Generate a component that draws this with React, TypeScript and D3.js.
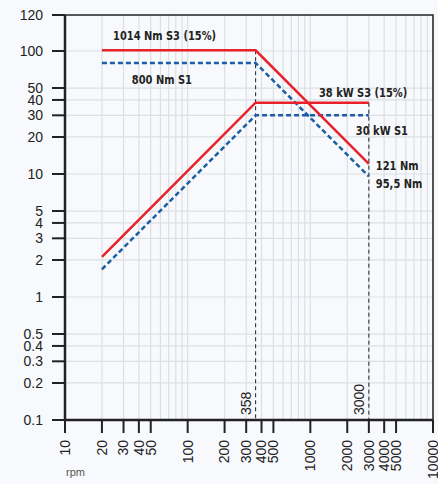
import React from 'react'
import * as d3 from 'd3'

// curve data (rpm, value on the log axis)
const rpmS3 = [20, 358, 3000]
const torqueS3 = [101.4, 101.4, 12.1]
const powerS3 = [2.12, 38, 38]
const torqueS1 = [80, 80, 9.55]
const powerS1 = [1.68, 30, 30]
const cornerRpm = [358, 3000]

const xTicks = [10, 20, 30, 40, 50, 100, 200, 300, 400, 500, 1000, 2000, 3000, 4000, 5000, 10000]
const yTicks = [0.1, 0.2, 0.3, 0.4, 0.5, 1, 2, 3, 4, 5, 10, 20, 30, 40, 50, 100]
const yTopLabel = '120'

const labels = [
  { text: '1014 Nm S3 (15%)', x: 22, y: 101.4, dy: -10, dx: 6 },
  { text: '800 Nm S1', x: 28, y: 80, dy: 21, dx: 12 },
  { text: '38 kW S3 (15%)', x: 1175, y: 38, dy: -6, dx: 0 },
  { text: '30 kW S1', x: 2350, y: 30, dy: 20, dx: 0 },
  { text: '121 Nm', x: 3000, y: 12.1, dy: 6, dx: 7 },
  { text: '95,5 Nm', x: 3000, y: 9.55, dy: 12, dx: 7 },
]

export default function App() {
  const W = 438, H = 484
  const m = { l: 65, r: 433, t: 15, b: 420 }
  const x = d3.scaleLog().domain([10, 10000]).range([m.l, m.r])
  const y = d3.scaleLog().domain([0.1, 100]).range([m.b, 51])

  const minorX: number[] = []
  for (let d = 10; d < 10000; d *= 10) for (let k = 2; k <= 10; k++) minorX.push(d * k)
  const line = d3.line<number>().x((_, i) => x(rpmS3[i])).y(v => y(v))

  const red = '#e8212b'
  const blue = '#1a5fa3'
  const font = 'Liberation Sans, Arial, sans-serif'
  const bold = '"Liberation Sans Narrow", "DejaVu Sans Condensed", "Roboto Condensed", sans-serif'

  return (
    <svg width={W} height={H} style={{ position: 'absolute', left: 0, top: 0, background: '#f7f9fc' }}>
      <rect width={W} height={H} fill='#f7f9fc' />
      {/* grid */}
      {minorX.map(v => (
        <line key={'gx' + v} x1={x(v)} x2={x(v)} y1={m.t} y2={m.b} stroke='#dcdfe3' strokeWidth={1.2} />
      ))}
      {yTicks.slice(1).map(v => (
        <line key={'gy' + v} x1={m.l} x2={m.r} y1={y(v)} y2={y(v)} stroke='#dcdfe3' strokeWidth={1.2} />
      ))}
      {/* frame */}
      <rect x={m.l} y={m.t} width={m.r - m.l} height={m.b - m.t} fill='none' stroke='#222' strokeWidth={1.5} />
      <line x1={m.l} x2={m.l} y1={m.t} y2={m.b} stroke='#222' strokeWidth={2.5} />
      <line x1={m.l} x2={m.r} y1={m.b} y2={m.b} stroke='#222' strokeWidth={2.5} />
      {/* y ticks */}
      {yTicks.map(v => (
        <g key={'yt' + v}>
          <line x1={m.l - 13} x2={m.l} y1={y(v)} y2={y(v)} stroke='#222' strokeWidth={2} />
          <text x={43} y={y(v)} dy='0.35em' textAnchor='end' fontFamily={font} fontSize={14} fill='#222'>{v}</text>
        </g>
      ))}
      <line x1={m.l - 13} x2={m.l} y1={m.t} y2={m.t} stroke='#222' strokeWidth={2} />
      <text x={43} y={m.t} dy='0.35em' textAnchor='end' fontFamily={font} fontSize={14} fill='#222'>{yTopLabel}</text>
      {/* x ticks */}
      {xTicks.map(v => (
        <g key={'xt' + v}>
          <line x1={x(v)} x2={x(v)} y1={m.b} y2={m.b + 13} stroke='#222' strokeWidth={2} />
          <text transform={`translate(${x(v)},${m.b + 20}) rotate(-90)`} dy='0.35em' textAnchor='end'
            fontFamily={font} fontSize={14} fill='#222'>{v}</text>
        </g>
      ))}
      <text x={66} y={476} fontFamily={font} fontSize={11} fill='#555'>rpm</text>
      {/* corner speed markers */}
      {cornerRpm.map((r, i) => (
        <g key={'c' + r}>
          <line x1={x(r)} x2={x(r)} y1={y(i === 0 ? torqueS3[0] : powerS3[2])} y2={m.b}
            stroke='#222' strokeWidth={1} strokeDasharray='4,3' />
          <text transform={`translate(${x(r) - 5},${m.b - 5}) rotate(-90)`} textAnchor='start'
            fontFamily={font} fontSize={14} fill='#222'>{r}</text>
        </g>
      ))}
      {/* curves */}
      <path d={line(torqueS1) ?? ''} fill='none' stroke={blue} strokeWidth={2.5} strokeDasharray='5,3' />
      <path d={line(powerS1) ?? ''} fill='none' stroke={blue} strokeWidth={2.5} strokeDasharray='5,3' />
      <path d={line(torqueS3) ?? ''} fill='none' stroke={red} strokeWidth={2.5} />
      <path d={line(powerS3) ?? ''} fill='none' stroke={red} strokeWidth={2.5} />
      {labels.map(l => (
        <text key={l.text} transform={`translate(${x(l.x) + l.dx},${y(l.y) + l.dy}) scale(0.88,1)`}
          fontFamily={bold} fontWeight='bold' fontSize={12.5} fill='#222'>{l.text}</text>
      ))}
    </svg>
  )
}
